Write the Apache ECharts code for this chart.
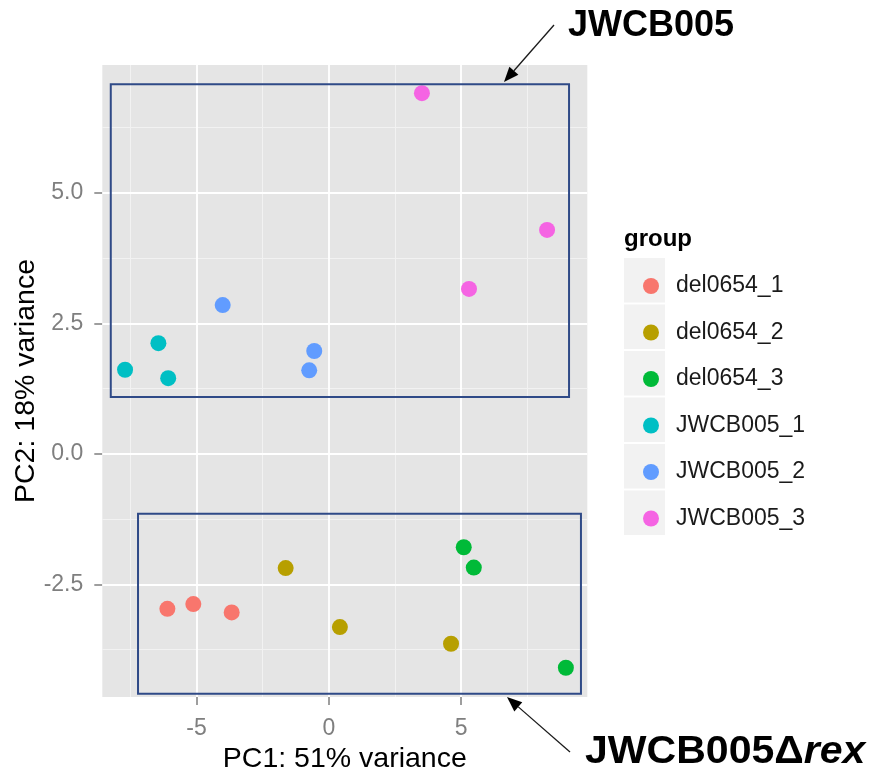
<!DOCTYPE html>
<html>
<head>
<meta charset="utf-8">
<script src="https://cdn.jsdelivr.net/npm/echarts@6/dist/echarts.min.js"></script>
<style>
  html, body { margin: 0; padding: 0; background: #ffffff; }
  #chart { width: 878px; height: 778px; }
</style>
</head>
<body>
<div id="chart"></div>
<script>
// PCA scores per sample group (PC1, PC2)
const groups = ['del0654_1', 'del0654_2', 'del0654_3', 'JWCB005_1', 'JWCB005_2', 'JWCB005_3'];
const groupColors = ['#F8766D', '#B79F00', '#00BA38', '#00BFC4', '#619CFF', '#F564E3'];

const del0654_1 = [[-6.10, -2.97], [-5.12, -2.88], [-3.67, -3.04]];
const del0654_2 = [[-1.63, -2.19], [0.42, -3.32], [4.62, -3.64]];
const del0654_3 = [[5.10, -1.79], [5.48, -2.18], [8.96, -4.10]];
const JWCB005_1 = [[-6.44, 2.12], [-7.70, 1.61], [-6.07, 1.45]];
const JWCB005_2 = [[-4.01, 2.85], [-0.55, 1.97], [-0.74, 1.60]];
const JWCB005_3 = [[3.52, 6.91], [8.25, 4.29], [5.30, 3.16]];
const groupData = [del0654_1, del0654_2, del0654_3, JWCB005_1, JWCB005_2, JWCB005_3];

// Axis ranges and tick values
const xRange = [-8.56, 9.77];
const yRange = [-4.66, 7.45];
const xTicks = [-5, 0, 5];
const yTicks = [-2.5, 0, 2.5, 5.0];
const xMinor = [-7.5, -2.5, 2.5, 7.5];
const yMinor = [-3.75, -1.25, 1.25, 3.75, 6.25];

// Cluster boxes: [[x1, y1], [x2, y2]]
const clusterBoxes = [
  [[-8.24, 7.08], [9.08, 1.09]],
  [[-7.21, -1.15], [9.53, -4.60]]
];

const chart = echarts.init(document.getElementById('chart'), null, { renderer: 'canvas' });

const minorStyle = { color: '#f2f2f2', width: 1, type: 'solid' };
const majorStyle = { color: '#ffffff', width: 1.8, type: 'solid' };
const gridLineData = []
  .concat(xMinor.map(v => ({ xAxis: v, lineStyle: minorStyle })))
  .concat(yMinor.map(v => ({ yAxis: v, lineStyle: minorStyle })))
  .concat(xTicks.map(v => ({ xAxis: v, lineStyle: majorStyle })))
  .concat(yTicks.map(v => ({ yAxis: v, lineStyle: majorStyle })));

const series = [
  {
    name: 'gridlines',
    type: 'scatter',
    data: [],
    z: 1,
    silent: true,
    markLine: {
      z: 1,
      silent: true,
      symbol: ['none', 'none'],
      label: { show: false },
      emphasis: { disabled: true },
      lineStyle: { type: 'solid' },
      animation: false,
      data: gridLineData
    }
  }
];

groups.forEach((g, i) => {
  series.push({
    name: g,
    type: 'scatter',
    data: groupData[i],
    symbol: 'circle',
    symbolSize: 16,
    z: 3,
    itemStyle: { color: groupColors[i], opacity: 1 }
  });
});

series.push({
  name: 'boxes',
  type: 'scatter',
  data: [],
  z: 4,
  silent: true,
  markArea: {
    z: 4,
    silent: true,
    label: { show: false },
    itemStyle: { color: 'rgba(0,0,0,0)', borderColor: '#2f4a87', borderWidth: 2 },
    data: clusterBoxes.map(b => [{ coord: b[0] }, { coord: b[1] }])
  }
});

// Arrow helper for the annotation pointers
function arrow(x1, y1, x2, y2) {
  const ang = Math.atan2(y2 - y1, x2 - x1);
  const len = 15, half = 6;
  const bx = x2 - len * Math.cos(ang), by = y2 - len * Math.sin(ang);
  const px = -Math.sin(ang) * half, py = Math.cos(ang) * half;
  return [
    { type: 'line', shape: { x1: x1, y1: y1, x2: bx, y2: by }, style: { stroke: '#1a1a1a', lineWidth: 1.3 }, z: 10 },
    { type: 'polygon', shape: { points: [[x2, y2], [bx + px, by + py], [bx - px, by - py]] }, style: { fill: '#000000' }, z: 10 }
  ];
}

// Legend key backgrounds
const keyRects = groups.map((g, i) => ({
  type: 'rect',
  shape: { x: 624, y: 258 + i * 46.5, width: 41, height: 44.5 },
  style: { fill: '#f2f2f2' },
  z: 1
}));

const option = {
  backgroundColor: '#ffffff',
  animation: false,
  grid: {
    left: 102.3, right: 290.7, top: 65, bottom: 81,
    containLabel: false,
    outerBoundsMode: 'none',
    show: true, backgroundColor: '#e5e5e5', borderWidth: 0
  },
  xAxis: {
    type: 'value',
    min: xRange[0], max: xRange[1],
    name: 'PC1: 51% variance',
    nameLocation: 'middle',
    nameGap: 46,
    nameTextStyle: { fontFamily: 'Liberation Sans', fontSize: 28.5, color: '#000000' },
    axisLine: { show: false, onZero: false },
    splitLine: { show: false },
    axisTick: { show: true, length: 8, customValues: xTicks, lineStyle: { color: '#7f7f7f', width: 1.5 } },
    axisLabel: { customValues: xTicks, fontFamily: 'Liberation Sans', fontSize: 23, color: '#7f7f7f', margin: 20 }
  },
  yAxis: {
    type: 'value',
    min: yRange[0], max: yRange[1],
    name: 'PC2: 18% variance',
    nameLocation: 'middle',
    nameGap: 62,
    nameMoveOverlap: false,
    nameTextStyle: { fontFamily: 'Liberation Sans', fontSize: 28.5, color: '#000000' },
    axisLine: { show: false, onZero: false },
    splitLine: { show: false },
    axisTick: { show: true, length: 8, customValues: yTicks, lineStyle: { color: '#7f7f7f', width: 1.5 } },
    axisLabel: {
      customValues: yTicks, fontFamily: 'Liberation Sans', fontSize: 23, color: '#7f7f7f', margin: 19,
      formatter: v => v.toFixed(1)
    }
  },
  legend: {
    data: groups,
    orient: 'vertical',
    left: 638, top: 269,
    icon: 'circle',
    itemWidth: 16, itemHeight: 16,
    itemGap: 22.5,
    selectedMode: false,
    textStyle: { fontFamily: 'Liberation Sans', fontSize: 23, color: '#1a1a1a', lineHeight: 24, padding: [0, 0, 0, 12] }
  },
  graphic: keyRects.concat([
    { type: 'text', left: 624, top: 227, z: 10,
      style: { text: 'group', font: 'bold 24px "Liberation Sans"', fill: '#000000' } },
    { type: 'text', x: 568, y: 26, z: 10,
      style: { text: 'JWCB005', font: 'bold 36px "Liberation Sans"', fill: '#000000', verticalAlign: 'middle' } },
    { type: 'text', x: 585, y: 753, z: 10, scaleX: 1.08,
      style: {
        text: '{a|JWCB005Δ}{b|rex}', verticalAlign: 'middle',
        rich: {
          a: { font: 'bold 38px "Liberation Sans"', fill: '#000000' },
          b: { font: 'italic bold 38px "Liberation Sans"', fill: '#000000' }
        }
      } }
  ]).concat(arrow(554, 25, 504, 82)).concat(arrow(570, 752, 507, 697)),
  series: series
};

chart.setOption(option);
</script>
</body>
</html>
